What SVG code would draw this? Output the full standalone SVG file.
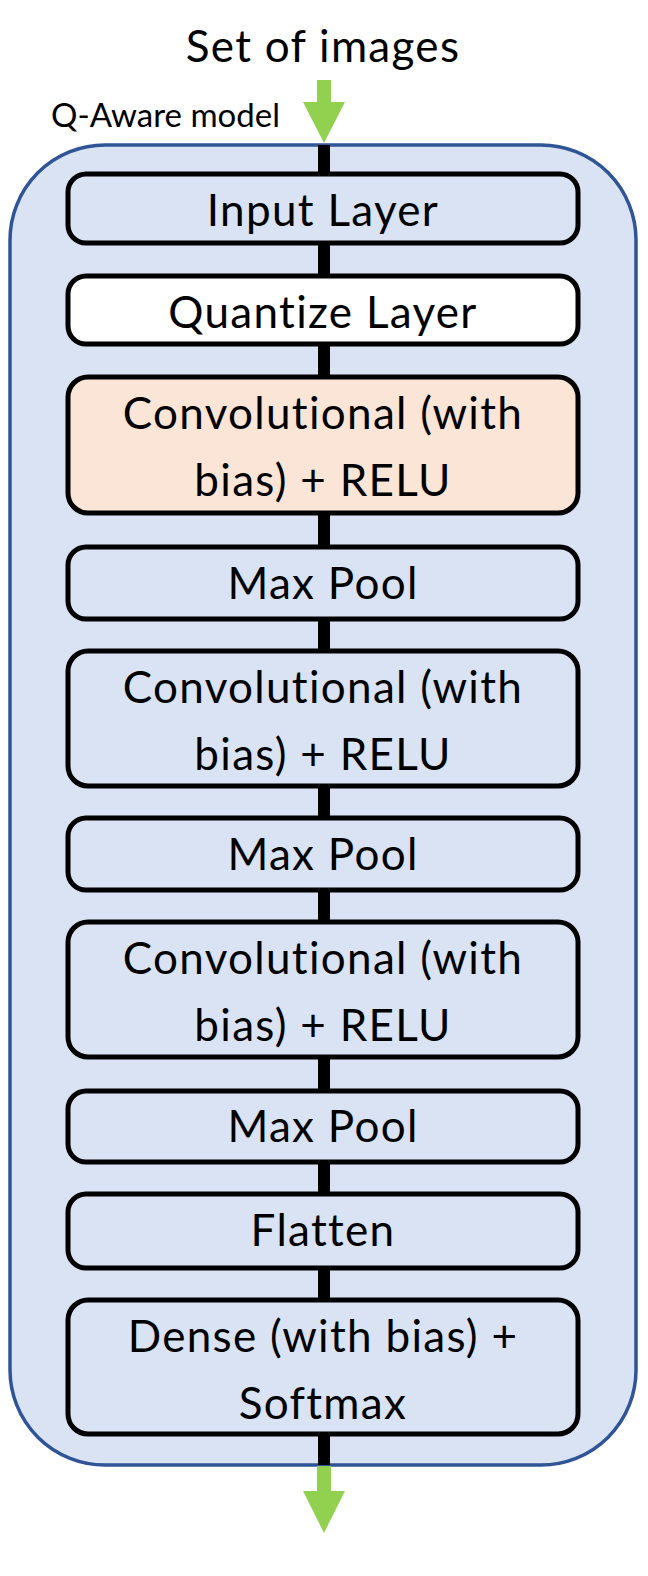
<svg xmlns="http://www.w3.org/2000/svg" width="648" height="1576" viewBox="0 0 648 1576">
<style>
.node{fill:#DAE3F3;stroke:#000;stroke-width:5}
.t{font-family:Lato,"Noto Sans",sans-serif;font-size:44px;letter-spacing:1.3px;fill:#000;text-anchor:middle}
.arrow{fill:#92D050}
</style>
<rect width="648" height="1576" fill="#fff"/>
<text class="t" x="323" y="62">Set of images</text>
<text x="51" y="127" style="font-family:Lato,'Noto Sans',sans-serif;font-size:33px">Q-Aware model</text>
<g id="container">
<rect x="10" y="145" width="626" height="1320" rx="95" fill="#DAE3F3" stroke="#2F5597" stroke-width="3.5"/>
</g>
<g id="connectors">
<line x1="324" y1="145" x2="324" y2="1465" stroke="#000" stroke-width="12"/>
<path class="arrow" d="M317 80 H331 V102 H345 L324 143 L303 102 H317 Z"/>
<path class="arrow" d="M317 1466 H331 V1491 H345 L324 1533 L303 1491 H317 Z"/>
</g>
<g id="input"><rect class="node" x="68" y="174" width="510" height="69" rx="18"/><text class="t" x="323" y="226">Input Layer</text></g>
<g id="quantize"><rect class="node" x="68" y="276" width="510" height="68" rx="18" style="fill:#fff"/><text class="t" x="323" y="328">Quantize Layer</text></g>
<g id="conv1"><rect class="node" x="68" y="377" width="510" height="136" rx="20" style="fill:#FBE5D6"/><text class="t" x="323" y="429">Convolutional (with</text><text class="t" x="323" y="496">bias) + RELU</text></g>
<g id="pool1"><rect class="node" x="68" y="547" width="510" height="72" rx="18"/><text class="t" x="323" y="599">Max Pool</text></g>
<g id="conv2"><rect class="node" x="68" y="651" width="510" height="135" rx="20"/><text class="t" x="323" y="703">Convolutional (with</text><text class="t" x="323" y="770">bias) + RELU</text></g>
<g id="pool2"><rect class="node" x="68" y="818" width="510" height="72" rx="18"/><text class="t" x="323" y="870">Max Pool</text></g>
<g id="conv3"><rect class="node" x="68" y="922" width="510" height="135" rx="20"/><text class="t" x="323" y="974">Convolutional (with</text><text class="t" x="323" y="1041">bias) + RELU</text></g>
<g id="pool3"><rect class="node" x="68" y="1091" width="510" height="71" rx="18"/><text class="t" x="323" y="1142">Max Pool</text></g>
<g id="flatten"><rect class="node" x="68" y="1194" width="510" height="74" rx="18"/><text class="t" x="323" y="1246">Flatten</text></g>
<g id="dense"><rect class="node" x="68" y="1300" width="510" height="134" rx="20"/><text class="t" x="323" y="1352">Dense (with bias) +</text><text class="t" x="323" y="1419">Softmax</text></g>
</svg>
